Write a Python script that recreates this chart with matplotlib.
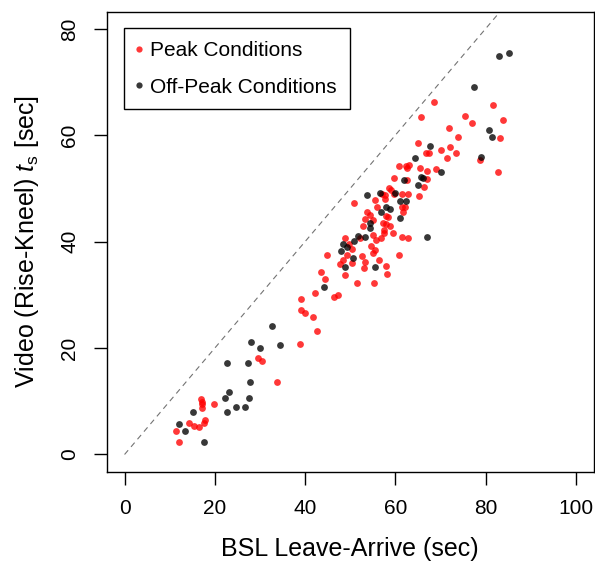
"""
Scatter of video-measured rise-kneel time against BSL leave-arrive time
"""
# IMPORTS
import matplotlib
matplotlib.use("Agg")
import matplotlib.pyplot as plt
from matplotlib.lines import Line2D

# VARIABLES
# Peak conditions (x = BSL leave-arrive, y = video rise-kneel)
peak_x = [68.5, 81.6, 65.6, 75.5, 83.9, 76.9, 72.0, 74.0, 83.1, 65.1,
          70.2, 72.2, 71.4, 73.4, 66.7, 67.5, 78.8, 69.1, 82.8, 60.8,
          62.3, 63.0, 62.5, 65.4, 67.1, 67.1, 59.7, 62.5, 66.3, 65.2,
          58.7, 59.0, 57.0, 57.7, 59.7, 61.6, 62.9, 61.4, 62.2, 61.8,
          57.7, 50.9, 55.4, 55.9, 53.7, 54.3, 53.2, 55.1, 58.0, 58.3,
          57.2, 57.9, 58.9, 57.6, 57.4, 59.4, 61.4, 62.8, 55.1, 52.8,
          55.7, 56.8, 52.2, 54.7, 55.5, 55.1, 48.8, 49.8, 50.5, 49.2,
          47.8, 48.4, 52.7, 53.2, 53.0, 50.5, 56.5, 58.0, 58.2, 60.8,
          44.8, 48.8, 43.5, 44.5, 51.5, 55.3, 47.4, 46.5, 42.1, 39.2,
          39.2, 40.1, 41.8, 42.7, 38.9, 29.6, 30.4, 33.7, 19.8, 17.0,
          17.1, 17.1, 17.1, 17.8, 17.7, 16.5, 15.5, 14.2, 11.4, 12.0]
peak_y = [66.2, 65.7, 63.4, 63.7, 62.9, 62.3, 61.3, 59.6, 59.4, 58.5,
          57.2, 57.7, 55.7, 56.7, 56.7, 56.7, 55.4, 53.7, 53.0, 54.2,
          54.2, 54.5, 53.8, 53.9, 53.2, 51.8, 52.0, 51.5, 50.2, 48.5,
          50.1, 49.8, 49.0, 48.7, 49.0, 49.0, 49.0, 46.6, 46.6, 45.6,
          48.0, 47.2, 47.8, 46.6, 45.6, 45.1, 44.3, 44.1, 44.9, 44.6,
          43.6, 43.3, 42.9, 42.2, 41.6, 41.7, 40.9, 40.7, 41.2, 42.9,
          40.4, 40.6, 40.6, 39.2, 38.5, 37.9, 40.6, 39.6, 38.7, 37.5,
          35.8, 36.5, 37.3, 36.2, 35.0, 36.0, 36.5, 35.5, 34.0, 37.5,
          37.5, 33.7, 34.3, 33.0, 32.3, 32.3, 29.9, 29.6, 30.3, 29.2,
          27.1, 26.5, 25.9, 23.2, 20.7, 18.2, 17.5, 13.7, 9.4, 10.4,
          9.9, 9.4, 8.8, 6.4, 5.9, 5.2, 5.3, 5.9, 4.5, 2.4]

# Off-peak conditions
off_x = [85.2, 82.9, 77.4, 80.8, 81.4, 79.0, 70.2, 67.8, 64.4, 65.8,
         66.1, 65.0, 61.9, 67.0, 60.0, 61.0, 62.4, 61.0, 57.9, 58.8,
         56.8, 56.7, 53.8, 54.3, 54.5, 53.3, 51.8, 50.9, 48.4, 48.0,
         49.2, 50.6, 48.8, 55.6, 44.1, 32.7, 28.0, 30.1, 34.5, 22.7,
         27.3, 27.8, 23.1, 22.2, 27.5, 24.8, 26.6, 22.6, 15.2, 12.0,
         13.5, 17.6]
off_y = [75.5, 74.9, 69.0, 61.0, 59.7, 55.9, 53.0, 58.0, 55.7, 52.2,
         51.9, 50.7, 51.5, 40.8, 49.2, 47.6, 47.6, 44.5, 46.5, 46.2,
         45.5, 49.2, 48.8, 42.5, 43.6, 40.8, 41.1, 40.2, 39.6, 38.2,
         39.0, 37.0, 35.2, 35.2, 31.5, 24.2, 21.2, 20.0, 20.5, 17.2,
         17.2, 13.7, 11.7, 10.7, 10.7, 9.0, 9.0, 7.9, 7.9, 5.7,
         4.5, 2.4]

x_ticks = [0, 20, 40, 60, 80, 100]
y_ticks = [0, 20, 40, 60, 80]
labels = ["Peak Conditions", "Off-Peak Conditions"]

# EXECUTION
plt.rcParams['font.family'] = ['Liberation Sans', 'DejaVu Sans']
plt.rcParams['mathtext.fontset'] = 'custom'
plt.rcParams['mathtext.rm'] = 'Liberation Sans'
plt.rcParams['mathtext.it'] = 'Liberation Sans:italic'

fig = plt.figure(figsize=(5.95, 5.62), dpi=100)
ax = fig.add_axes([0.179, 0.161, 0.819, 0.818])

ax.plot([0, 120], [0, 120], linestyle=(0, (5, 4)), color='0.45',
        linewidth=0.8, zorder=1)

red = (1.0, 0.0, 0.0, 0.78)
dark = (0.0, 0.0, 0.0, 0.78)
ax.scatter(peak_x, peak_y, s=24, color=red, linewidths=0, zorder=2)
ax.scatter(off_x, off_y, s=24, color=dark, linewidths=0, zorder=3)

ax.set_xlim(-4, 104)
ax.set_ylim(-3.2, 83.2)
ax.set_xticks(x_ticks)
ax.set_yticks(y_ticks)

for spine in ax.spines.values():
    spine.set_linewidth(1.0)

ax.tick_params(axis='both', direction='out', length=9.5, width=1.0,
               labelsize=15, color='black')
ax.tick_params(axis='x', pad=10.5)
ax.tick_params(axis='y', pad=10)
for lbl in ax.get_yticklabels():
    lbl.set_rotation(90)
    lbl.set_verticalalignment('center')

ax.set_xlabel("BSL Leave-Arrive (sec)", fontsize=18, labelpad=13.5)
ax.set_ylabel(r"Video (Rise-Kneel) $t_{\mathrm{s}}$ [sec]", fontsize=18,
              labelpad=14)

# Legend
handles = [Line2D([], [], linestyle='none', marker='o', markersize=4.5,
                  markerfacecolor=red, markeredgewidth=0),
           Line2D([], [], linestyle='none', marker='o', markersize=4.5,
                  markerfacecolor=dark, markeredgewidth=0)]
leg = ax.legend(handles, labels, loc='upper left',
                bbox_to_anchor=(0.035, 0.965), borderaxespad=0,
                fontsize=15, fancybox=False, framealpha=1,
                edgecolor='black', handlelength=0.2, handletextpad=0.45,
                labelspacing=0.85, borderpad=0.62)
leg.get_frame().set_linewidth(1.0)

# OUTPUT
fig.savefig("out.png", dpi=100)
